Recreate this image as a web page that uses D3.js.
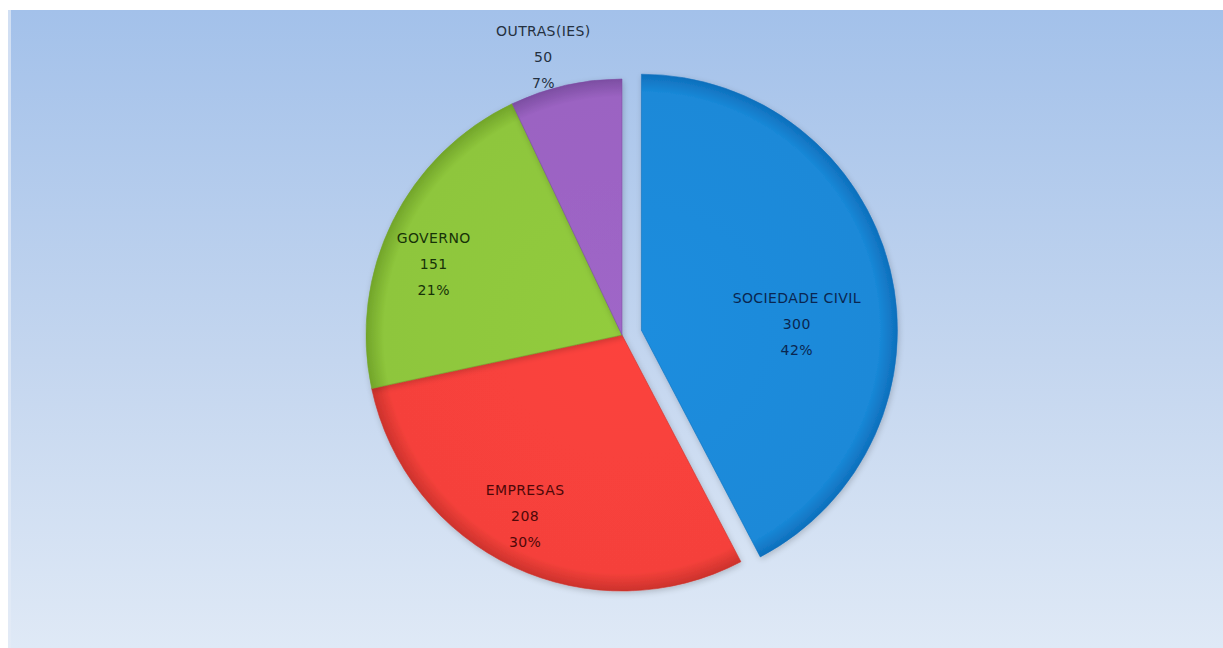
<!DOCTYPE html>
<html>
<head>
<meta charset="utf-8">
<script src="https://cdn.jsdelivr.net/npm/d3@7"></script>
<style>
  html, body { margin: 0; padding: 0; background: #ffffff; }
  svg { display: block; }
</style>
</head>
<body>
<div id="chart-area"></div>
<script>
// chart values
const categories = ['SOCIEDADE CIVIL', 'EMPRESAS', 'GOVERNO', 'OUTRAS(IES)'];
const values = [300, 208, 151, 50];
const percentLabels = ['42%', '30%', '21%', '7%'];

const chart = (function () {
    'use strict';

    const width = 1223, height = 648;
    const cx = 622, cy = 335, radius = 256;

    const svg = d3.select('#chart-area')
        .append('svg')
        .attr('width', width)
        .attr('height', height);

    const defs = svg.append('defs');

    // background gradient
    const bg = defs.append('linearGradient')
        .attr('id', 'bg').attr('x1', 0).attr('y1', 0).attr('x2', 0).attr('y2', 1);
    bg.append('stop').attr('offset', '0%').attr('stop-color', '#a3c1ea');
    bg.append('stop').attr('offset', '55%').attr('stop-color', '#c4d6ef');
    bg.append('stop').attr('offset', '100%').attr('stop-color', '#dfe9f6');

    svg.append('rect')
        .attr('x', 8).attr('y', 10)
        .attr('width', width - 8).attr('height', height - 10)
        .attr('fill', 'url(#bg)');
    svg.append('rect')
        .attr('x', 8).attr('y', 10)
        .attr('width', 3).attr('height', height - 10)
        .attr('fill', '#e4ebf7').attr('opacity', 0.7);

    const colors = [
        { base: '#1a89d8', edge: '#0e6fbc', text: '#0a2650' },
        { base: '#f5413b', edge: '#cc322c', text: '#4e0808' },
        { base: '#8ec63c', edge: '#72a52a', text: '#173208' },
        { base: '#9b63c2', edge: '#7c4ea2', text: '#243040' }
    ];

    // explode only the first slice
    const explode = [20, 0, 0, 0];

    // label placement: radius and nudge relative to slice centroid direction
    const labelLayout = [
        { r: 160, dx: 0, dy: 32 },
        { r: 200, dx: -12, dy: 0 },
        { r: 210, dx: 0, dy: 22 },
        { r: 285, dx: -16, dy: 0 }
    ];

    const pie = d3.pie().sort(null).value(d => d);
    const arcs = pie(values);

    const arc = d3.arc().innerRadius(0).outerRadius(radius);

    const g = svg.append('g').attr('transform', 'translate(' + cx + ',' + cy + ')');

    // soft shadow
    const filter = defs.append('filter').attr('id', 'shadow')
        .attr('x', '-20%').attr('y', '-20%').attr('width', '140%').attr('height', '140%');
    filter.append('feGaussianBlur').attr('in', 'SourceAlpha').attr('stdDeviation', 3);
    filter.append('feOffset').attr('dx', 1).attr('dy', 2).attr('result', 'b');
    filter.append('feComponentTransfer').append('feFuncA').attr('type', 'linear').attr('slope', 0.2);
    const merge = filter.append('feMerge');
    merge.append('feMergeNode');
    merge.append('feMergeNode').attr('in', 'SourceGraphic');

    arcs.forEach(function (a, i) {
        const mid = (a.startAngle + a.endAngle) / 2;
        const ox = Math.sin(mid) * explode[i];
        const oy = -Math.cos(mid) * explode[i];

        const grad = defs.append('radialGradient')
            .attr('id', 'slice' + i)
            .attr('gradientUnits', 'userSpaceOnUse')
            .attr('cx', 0).attr('cy', 0).attr('r', radius);
        grad.append('stop').attr('offset', '0%').attr('stop-color', d3.color(colors[i].base).brighter(0.08));
        grad.append('stop').attr('offset', '93%').attr('stop-color', colors[i].base);
        grad.append('stop').attr('offset', '100%').attr('stop-color', colors[i].edge);

        g.append('path')
            .attr('d', arc(a))
            .attr('transform', 'translate(' + ox + ',' + oy + ')')
            .attr('fill', 'url(#slice' + i + ')')
            .attr('stroke', colors[i].edge)
            .attr('stroke-width', 0.6)
            .attr('filter', 'url(#shadow)');
    });

    // labels
    arcs.forEach(function (a, i) {
        const mid = (a.startAngle + a.endAngle) / 2;
        const ox = Math.sin(mid) * explode[i];
        const oy = -Math.cos(mid) * explode[i];
        const lay = labelLayout[i];
        const x = ox + Math.sin(mid) * lay.r + lay.dx;
        const y = oy - Math.cos(mid) * lay.r + lay.dy;

        const t = g.append('text')
            .attr('text-anchor', 'middle')
            .attr('font-family', '"DejaVu Sans", sans-serif')
            .attr('font-size', '14px')
            .attr('letter-spacing', '0.4px')
            .attr('fill', colors[i].text);
        const lines = [categories[i], String(a.data), percentLabels[i]];
        lines.forEach(function (ln, k) {
            t.append('tspan')
                .attr('x', x)
                .attr('y', y + (k - 1) * 26 + 5)
                .text(ln);
        });
    });

    return { svg: svg };
})();
</script>
</body>
</html>
